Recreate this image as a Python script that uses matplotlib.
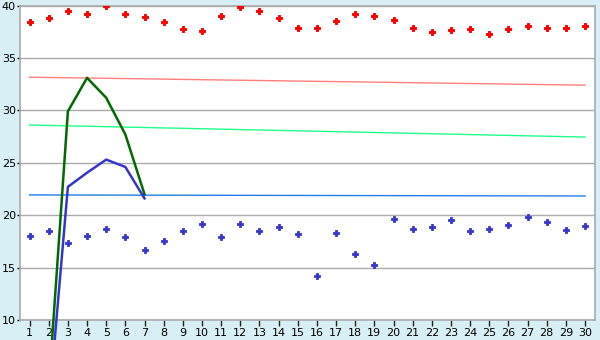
import numpy as np
import matplotlib.pyplot as plt

# data
days = list(range(1, 31))

red_pts = [38.4, 38.8, 39.5, 39.2, 40.0, 39.2, 38.9, 38.4, 37.8, 37.6,
           39.0, 39.9, 39.45, 38.8, 37.9, 37.9, 38.5, 39.2, 39.0, 38.6,
           37.9, 37.5, 37.7, 37.8, 37.25, 37.8, 38.0, 37.9, 37.9, 38.0]

blue_pts = [18.0, 18.5, 17.35, 18.0, 18.7, 17.9, 16.7, 17.5, 18.5, 19.2,
            17.9, 19.2, 18.5, 18.9, 18.2, 14.2, 18.3, 16.3, 15.25, 19.6,
            18.7, 18.9, 19.55, 18.5, 18.7, 19.1, 19.8, 19.35, 18.6, 19.0]

line_days = [2, 3, 4, 5, 6, 7]
green_line = [3.5, 29.9, 33.1, 31.2, 27.7, 22.0]
blue_line = [1.5, 22.7, 24.05, 25.3, 24.6, 21.6]

# trend lines (start / end value over days 1..30)
trend_days = [1, 30]
red_trend = [33.16, 32.4]
green_trend = [28.6, 27.45]
blue_trend = [21.93, 21.83]

bg = "#D9EFF6"
fig = plt.figure(figsize=(6, 3.4), dpi=100, facecolor=bg)
ax = fig.add_axes([20 / 600, 1 - 320 / 340, 575 / 600, 314.5 / 340])
ax.set_facecolor("white")

ax.plot(trend_days, red_trend, color="#FF7F7F", lw=1.0)
ax.plot(trend_days, green_trend, color="#1EFF8C", lw=1.0)
ax.plot(trend_days, blue_trend, color="#1E7FE6", lw=1.0)

ax.plot(line_days, green_line, color="#006A00", lw=1.8, clip_on=False, zorder=3)
ax.plot(line_days, blue_line, color="#3535CC", lw=1.8, clip_on=False, zorder=3)

ax.plot(days, red_pts, ls="none", marker="P", ms=4.6, mew=0.7, color="#FF0000",
        zorder=4)
ax.plot(days, blue_pts, ls="none", marker="P", ms=4.2, mew=0.6, color="#3535CC",
        zorder=4)

ax.set_xlim(0.5, 30.52)
ax.set_ylim(10, 40)
ax.set_xticks(days)
ax.set_yticks(range(10, 41, 5))
ax.yaxis.grid(True, color="#AAAAAA", lw=1.0)
ax.set_axisbelow(True)
for s in ax.spines.values():
    s.set_color("#AAAAAA")
    s.set_linewidth(1.2)
ax.tick_params(axis="both", labelsize=8, colors="black", length=4,
               width=1, pad=1.5)
ax.tick_params(axis="y", length=2, pad=1)
ax.tick_params(axis="x", color="#222222")

fig.savefig("out.png", dpi=100, facecolor=bg)
